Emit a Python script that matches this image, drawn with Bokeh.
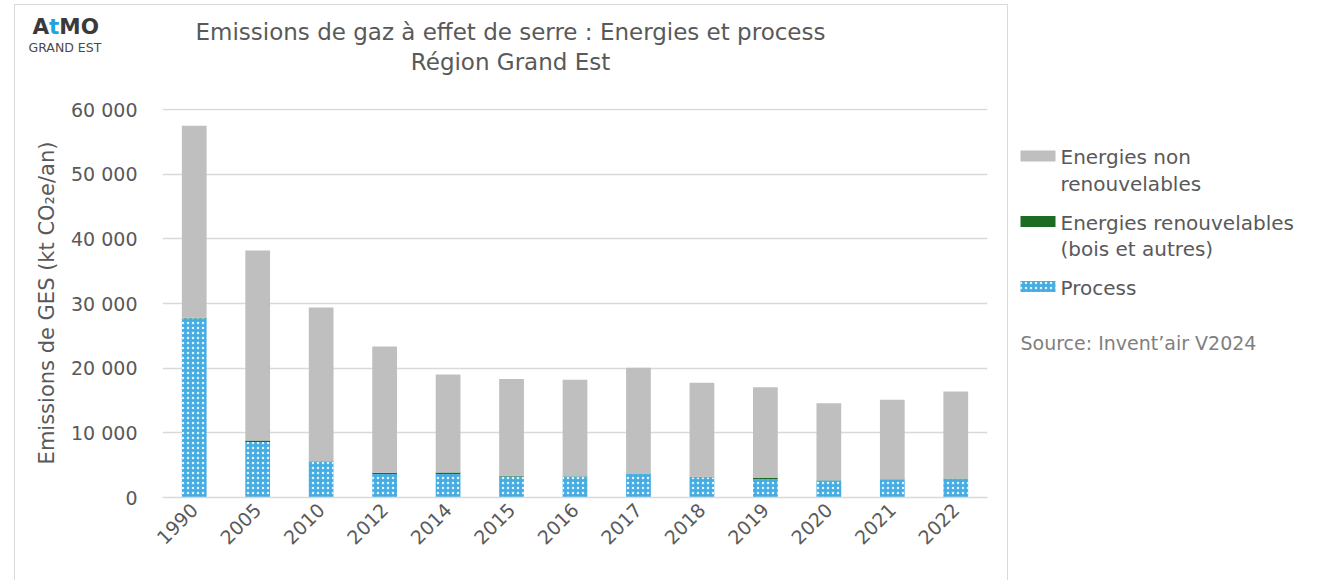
from math import pi
from bokeh.plotting import figure
from bokeh.layouts import row, column
from bokeh.models import (ColumnDataSource, FactorRange, Range1d, FixedTicker,
                          CustomJSTickFormatter, Spacer)
from bokeh.core.properties import value
from bokeh.embed import file_html
from bokeh.resources import INLINE

# ---------------- data ----------------
years = ["1990", "2005", "2010", "2012", "2014", "2015", "2016",
         "2017", "2018", "2019", "2020", "2021", "2022"]
process = [27700, 8600, 5550, 3620, 3650, 3250, 3250, 3660, 3140, 2850, 2630, 2780, 2890]
renouvelables = [80, 210, 60, 200, 200, 130, 50, 50, 50, 180, 50, 50, 50]
totals = [57500, 38180, 29370, 23340, 19010, 18340, 18190, 20050, 17730, 17050, 14580, 15100, 16380]
non_renouvelables = [t - p - r for t, p, r in zip(totals, process, renouvelables)]
y_ticks = [0, 10000, 20000, 30000, 40000, 50000, 60000]

title_lines = ["Emissions de gaz à effet de serre : Energies et process", "Région Grand Est"]
y_label = "Emissions de GES (kt CO\u2082e/an)"
legend_lines = [["Energies non", "renouvelables"],
                ["Energies renouvelables", "(bois et autres)"],
                ["Process"]]
source_text = "Source: Invent\u2019air V2024"

# ---------------- style ----------------
FONT = "DejaVu Sans"
TXT = "#595959"
GRAY = "#bfbfbf"
GREEN = "#1e6b23"
BLUE = "#45ade2"
GRID = "#d9d9d9"
HATCH = dict(hatch_color="white", hatch_scale=5, hatch_weight=1.3, hatch_alpha=0.85)

BOX_W = 992
TOP_H = 85
MAIN_H = 490
FL, FW, FR = 147, 825, 20
FT, FH, FB = 18, 389, 83
YMAX = 60000
Y_END = YMAX + YMAX / (FH - 1)


def blank_fig(w, h):
    f = figure(width=w, height=h, x_range=Range1d(0, w), y_range=Range1d(h, 0),
               x_axis_location=None, y_axis_location=None, min_border=0,
               output_backend="svg", toolbar_location=None, title=None)
    f.outline_line_color = None
    f.grid.visible = False
    f.background_fill_color = "white"
    f.border_fill_color = "white"
    f.frame_align = False
    return f


# ---------------- top panel: logo + title ----------------
top = blank_fig(BOX_W, TOP_H)
top.text(x=[495, 495], y=[26, 56], text=title_lines, text_align="center",
         text_baseline="middle", text_font=value(FONT), text_font_size="23px",
         text_color=TXT)
top.text(x=[17], y=[21], text=["A"], text_align="left", text_baseline="middle",
         text_font=value(FONT), text_font_size="21.5px", text_font_style="bold", text_color="#3a3a3a")
top.text(x=[33.6], y=[21], text=["t"], text_align="left", text_baseline="middle",
         text_font=value(FONT), text_font_size="21.5px", text_font_style="bold", text_color="#1ea5dc")
top.text(x=[43.8], y=[21], text=["MO"], text_align="left", text_baseline="middle",
         text_font=value(FONT), text_font_size="21.5px", text_font_style="bold", text_color="#3a3a3a")
top.text(x=[13], y=[41.5], text=["GRAND EST"], text_align="left", text_baseline="middle",
         text_font=value(FONT), text_font_size="12.5px", text_color="#4a4a4a")

# ---------------- main chart ----------------
p = figure(x_range=FactorRange(factors=years), y_range=Range1d(0, Y_END),
           frame_width=FW, frame_height=FH,
           min_border_left=FL, min_border_top=FT,
           min_border_right=FR, min_border_bottom=FB,
           output_backend="svg", toolbar_location=None, title=None)
p.outline_line_color = None
p.background_fill_color = "white"
p.border_fill_color = "white"
p.frame_align = False

src = ColumnDataSource(dict(year=years, process=process,
                            renouv=renouvelables, nonrenouv=non_renouvelables))
p.vbar_stack(["process", "renouv", "nonrenouv"], x="year", width=0.39, source=src,
             fill_color=[BLUE, GREEN, GRAY], line_color=None,
             hatch_pattern=["dot", " ", " "], **HATCH)

p.yaxis.ticker = FixedTicker(ticks=y_ticks)
p.yaxis.formatter = CustomJSTickFormatter(
    code="return tick.toFixed(0).replace(/\\B(?=(\\d{3})+(?!\\d))/g, ' ');")
p.yaxis.axis_line_color = None
p.yaxis.major_tick_line_color = None
p.yaxis.minor_tick_line_color = None
p.yaxis.major_tick_out = 0
p.yaxis.major_tick_in = 0
p.yaxis.minor_tick_out = 0
p.yaxis.major_label_standoff = 25
p.yaxis.major_label_text_font = FONT
p.yaxis.major_label_text_font_size = "19px"
p.yaxis.major_label_text_color = TXT
p.yaxis.axis_label = y_label
p.yaxis.axis_label_text_font = FONT
p.yaxis.axis_label_text_font_size = "21px"
p.yaxis.axis_label_text_font_style = "normal"
p.yaxis.axis_label_text_color = TXT
p.yaxis.axis_label_standoff = 9

p.xaxis.axis_line_color = GRID
p.xaxis.axis_line_width = 1.5
p.xaxis.major_tick_line_color = None
p.xaxis.minor_tick_line_color = None
p.xaxis.major_tick_out = 0
p.xaxis.major_tick_in = 0
p.xaxis.major_label_orientation = pi / 4
p.xaxis.major_label_standoff = 9
p.xaxis.major_label_text_font = FONT
p.xaxis.major_label_text_font_size = "19px"
p.xaxis.major_label_text_color = TXT

p.ygrid.grid_line_color = GRID
p.ygrid.grid_line_width = 1.5
p.xgrid.grid_line_color = None

# ---------------- legend panel ----------------
LEG_W, LEG_H = 312, TOP_H + MAIN_H
leg = blank_fig(LEG_W, LEG_H)
sw_y = [150.5, 216, 281]
sw_fill = [GRAY, GREEN, BLUE]
sw_hatch = [" ", " ", "dot"]
leg.quad(left=[12] * 3, right=[47] * 3, top=[y - 5.5 for y in sw_y],
         bottom=[y + 5.5 for y in sw_y], fill_color=sw_fill, line_color=None,
         hatch_pattern=sw_hatch, **HATCH)
lx, ly, lt = [], [], []
for k, lines in enumerate(legend_lines):
    for j, t in enumerate(lines):
        lx.append(52)
        ly.append(sw_y[k] + 1 + 26.5 * j)
        lt.append(t)
leg.text(x=lx, y=ly, text=lt, text_align="left", text_baseline="middle",
         text_font=value(FONT), text_font_size="20px", text_color=TXT)
leg.text(x=[12], y=[337], text=[source_text], text_align="left", text_baseline="middle",
         text_font=value(FONT), text_font_size="19px", text_color="#7f7f7f")

box = column(top, p, spacing=0, styles={"outline": f"1px solid {GRID}"})
layout = column(Spacer(height=5),
                row(Spacer(width=15), box, Spacer(width=1), leg, spacing=0),
                spacing=0)

open("out.html", "w").write(file_html(layout, INLINE))
